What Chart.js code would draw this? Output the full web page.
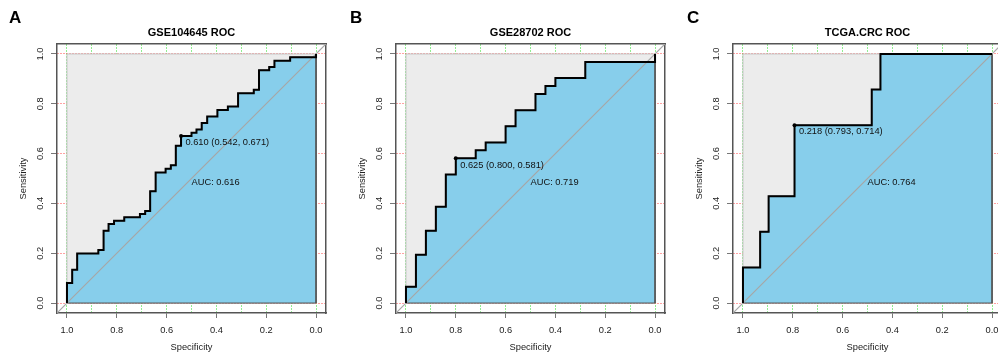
<!DOCTYPE html>
<html>
<head>
<meta charset="utf-8">
<script src="https://cdn.jsdelivr.net/npm/chart.js@4.4.0/dist/chart.umd.min.js"></script>
<style>
  html, body { margin: 0; padding: 0; background: #fff; }
  body { width: 998px; height: 356px; position: relative; overflow: hidden; }
  .panel { position: absolute; top: 0; width: 338px; height: 356px; }
  .tag { position: absolute; top: 8px; font: bold 17px "Liberation Sans", Arial, sans-serif; color: #000; }
</style>
</head>
<body>
<div class="panel" style="left:0"><canvas id="rocA" width="338" height="356"></canvas></div>
<div class="panel" style="left:339px"><canvas id="rocB" width="338" height="356"></canvas></div>
<div class="panel" style="left:676px"><canvas id="rocC" width="338" height="356"></canvas></div>
<div class="tag" style="left:9px">A</div>
<div class="tag" style="left:350px">B</div>
<div class="tag" style="left:687px">C</div>

<script>
// ---- data ----
const AXIS_TICKS = [0, 0.2, 0.4, 0.6, 0.8, 1.0];
const GRID_TICKS = [0, 0.1, 0.2, 0.3, 0.4, 0.5, 0.6, 0.7, 0.8, 0.9, 1.0];

// ROC steps: at specificity spec[i] the curve climbs to sensitivity sens[i]
const titleA = 'GSE104645 ROC';
const specA = [1, 0.979, 0.959, 0.874, 0.853, 0.833, 0.811, 0.770, 0.707, 0.686,
               0.666, 0.644, 0.604, 0.583, 0.563, 0.542, 0.5, 0.48, 0.459, 0.437,
               0.396, 0.354, 0.313, 0.25, 0.229, 0.188, 0.167, 0.104, 0];
const sensA = [0.08, 0.134, 0.199, 0.213, 0.29, 0.317, 0.33, 0.344, 0.357, 0.37,
               0.449, 0.524, 0.539, 0.553, 0.631, 0.671, 0.684, 0.697, 0.723, 0.749,
               0.775, 0.789, 0.842, 0.856, 0.935, 0.948, 0.973, 0.987, 1];
const bestA = [0.610, 0.542, 0.671];   // threshold, specificity, sensitivity
const aucA = 0.616;

const titleB = 'GSE28702 ROC';
const specB = [1, 0.96, 0.92, 0.88, 0.84, 0.80, 0.72, 0.68, 0.60, 0.56, 0.48, 0.44, 0.40, 0.28, 0];
const sensB = [0.065, 0.194, 0.290, 0.387, 0.516, 0.581, 0.613, 0.645, 0.710, 0.774, 0.839, 0.871, 0.903, 0.968, 1];
const bestB = [0.625, 0.800, 0.581];
const aucB = 0.719;

const titleC = 'TCGA.CRC ROC';
const specC = [1, 0.931, 0.897, 0.793, 0.483, 0.448];
const sensC = [0.143, 0.286, 0.429, 0.714, 0.857, 1.0];
const bestC = [0.218, 0.793, 0.714];
const aucC = 0.764;

// ---- styling ----
const FONT = '"Liberation Sans", Arial, sans-serif';
const AX_MIN = -0.04, AX_MAX = 1.04;
const BOX = '#555';

function stepPath(spec, sens) {
    const pts = [{ x: spec[0], y: 0 }];
    for (let i = 0; i < spec.length; i++) {
        pts.push({ x: spec[i], y: sens[i] });
        const nx = i + 1 < spec.length ? spec[i + 1] : 0;
        pts.push({ x: nx, y: sens[i] });
    }
    return pts;
}

const setTicks = list => scale => { scale.ticks = list.map(v => ({ value: v })); };

const rocLabels = {
    id: 'rocLabels',
    afterDatasetsDraw(chart, args, opts) {
        const { ctx, scales: { x, y } } = chart;
        ctx.save();
        ctx.font = '9.3px ' + FONT;
        ctx.fillStyle = '#111';
        ctx.textAlign = 'left';
        ctx.textBaseline = 'middle';
        const b = opts.best;
        const txt = `${b[0].toFixed(3)} (${b[1].toFixed(3)}, ${b[2].toFixed(3)})`;
        ctx.fillText(txt, x.getPixelForValue(b[1]) + 4.4, y.getPixelForValue(b[2]) + 6.7);
        ctx.fillText('AUC: ' + opts.auc.toFixed(3), x.getPixelForValue(0.5), y.getPixelForValue(0.5) + 4);
        ctx.restore();
    }
};

function renderRoc(canvasId, title, spec, sens, best, auc) {
    const canvas = document.getElementById(canvasId);
    const curve = stepPath(spec, sens);
    const tickFont = { family: FONT, size: 9.3 };

    new Chart(canvas, {
        type: 'line',
        data: {
            datasets: [
                {   // whole unit square, light grey
                    data: [{ x: 1, y: 0 }, { x: 1, y: 1 }, { x: 0, y: 1 }, { x: 0, y: 0 }, { x: 1, y: 0 }],
                    fill: 'shape', backgroundColor: '#ececec', borderColor: '#c4c4c4',
                    borderWidth: 1, pointRadius: 0, order: 5
                },
                {   // area under the curve
                    data: [...curve, { x: 0, y: 0 }, { x: spec[0], y: 0 }],
                    fill: 'shape', backgroundColor: '#87CEEB', borderColor: '#555',
                    borderWidth: 1, pointRadius: 0, order: 4
                },
                {   // identity line
                    data: [{ x: AX_MAX, y: AX_MIN }, { x: AX_MIN, y: AX_MAX }],
                    borderColor: '#a6a6a6', borderWidth: 1.2, pointRadius: 0, fill: false, order: 3
                },
                {   // ROC curve
                    data: curve,
                    borderColor: '#000', borderWidth: 2, pointRadius: 0, fill: false, order: 2
                },
                {   // best threshold
                    data: [{ x: best[1], y: best[2] }],
                    showLine: false, pointRadius: 2, pointBackgroundColor: '#000',
                    pointBorderWidth: 0, order: 1
                }
            ]
        },
        options: {
            responsive: false,
            animation: false,
            events: [],
            layout: { padding: { left: 0, right: 12, top: 0, bottom: 0 } },
            plugins: {
                legend: { display: false },
                tooltip: { enabled: false },
                title: {
                    display: true, text: title, color: '#000', fullSize: false,
                    font: { family: FONT, size: 11, weight: 'bold' },
                    padding: { top: 26, bottom: 4.8 }
                },
                rocLabels: { best, auc }
            },
            scales: {
                x: {
                    type: 'linear', position: 'bottom', reverse: true, min: AX_MIN, max: AX_MAX,
                    afterBuildTicks: setTicks(AXIS_TICKS),
                    afterFit: s => { s.height = 43; },
                    ticks: { font: tickFont, color: '#222', padding: 7, maxRotation: 0, autoSkip: false,
                             callback: v => v.toFixed(1) },
                    grid: { drawOnChartArea: false, drawTicks: true, tickLength: 5, tickColor: '#777' },
                    border: { display: true, color: BOX, width: 1.5 },
                    title: { display: true, text: 'Specificity', color: '#222', font: tickFont,
                             padding: { top: 0, bottom: 3.4 } }
                },
                xg: {
                    type: 'linear', position: 'top', reverse: true, min: AX_MIN, max: AX_MAX,
                    afterBuildTicks: setTicks(GRID_TICKS),
                    afterFit: s => { s.height = 0; },
                    ticks: { display: false },
                    grid: { color: '#22dd22', lineWidth: 1, drawTicks: false },
                    border: { display: true, color: BOX, width: 1.5, dash: [1, 2] }
                },
                y: {
                    type: 'linear', position: 'left', min: AX_MIN, max: AX_MAX,
                    afterBuildTicks: setTicks(AXIS_TICKS),
                    afterFit: s => { s.width = 57; },
                    ticks: { font: tickFont, color: '#222', padding: 4.5, minRotation: 90, maxRotation: 90,
                             crossAlign: 'center', autoSkip: false, callback: v => v.toFixed(1) },
                    grid: { color: '#ff4444', lineWidth: 1, drawTicks: true, tickLength: 6, tickColor: '#777' },
                    border: { display: true, color: BOX, width: 1.5, dash: [1, 2] },
                    title: { display: true, text: 'Sensitivity', color: '#222', font: tickFont,
                             padding: { top: 17.7, bottom: 0 } }
                },
                yr: {
                    type: 'linear', position: 'right', min: AX_MIN, max: AX_MAX,
                    afterFit: s => { s.width = 0; },
                    ticks: { display: false },
                    grid: { display: false, drawTicks: false },
                    border: { display: true, color: BOX, width: 1.5 }
                }
            }
        },
        plugins: [rocLabels]
    });
}

renderRoc('rocA', titleA, specA, sensA, bestA, aucA);
renderRoc('rocB', titleB, specB, sensB, bestB, aucB);
renderRoc('rocC', titleC, specC, sensC, bestC, aucC);
</script>
</body>
</html>
